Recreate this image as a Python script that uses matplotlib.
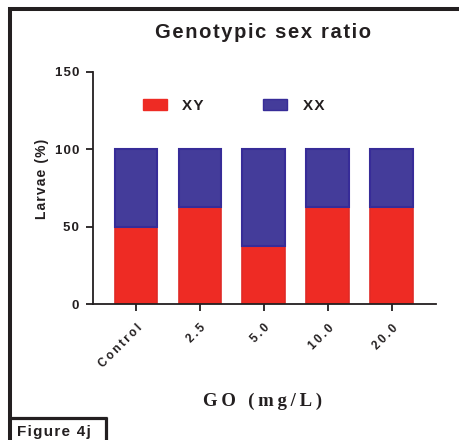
import matplotlib
matplotlib.use("Agg")
import matplotlib.pyplot as plt
from matplotlib.patches import Patch
from matplotlib.lines import Line2D
import numpy as np

categories = ["Control", "2.5", "5.0", "10.0", "20.0"]
xy_values = [50.0, 62.5, 37.5, 62.5, 62.5]
xx_values = [50.0, 37.5, 62.5, 37.5, 37.5]
series_names = ["XY", "XX"]
y_ticks = [0, 50, 100, 150]

RED = "#ee2b24"
RED_EDGE = "#e02a26"
BLUE = "#443c9a"
BLUE_EDGE = "#372c98"
DARK = "#231f20"

HAIR = "\u200a"
THIN = "\u2009"
SANS = ["Liberation Sans", "DejaVu Sans"]
SERIF = ["Liberation Serif", "DejaVu Serif"]


def track(s, sp=HAIR):
    """Letter-spaced version of a label (the source typesets with wide tracking)."""
    return sp.join(s)


W, H = 460, 440
fig = plt.figure(figsize=(W / 100, H / 100), dpi=100)
fig.patch.set_facecolor("white")


def fx(px):
    return px / W


def fy(py):
    return 1 - py / H


ax = fig.add_axes([fx(93), fy(304), fx(436) - fx(93), fy(72) - fy(304)])

x = np.arange(len(categories))
bw = 0.67
ax.bar(x, xy_values, width=bw, color=RED, edgecolor=RED_EDGE, linewidth=1.2, label=series_names[0])
ax.bar(x, xx_values, bottom=xy_values, width=bw, color=BLUE, edgecolor=BLUE_EDGE, linewidth=1.5,
       label=series_names[1])

ax.set_xlim(-0.672, 4.69)
ax.set_ylim(0, 150)
ax.set_yticks(y_ticks)
ax.set_xticks(x)
ax.set_xticklabels([track(c, THIN) for c in categories], rotation=45, ha="right", va="top",
                   rotation_mode="anchor", fontsize=8.5, fontweight="bold", family=SANS)
ax.set_yticklabels([track(str(v)) for v in y_ticks], fontsize=9.5, fontweight="bold", family=SANS)
for s in ["top", "right"]:
    ax.spines[s].set_visible(False)
for s in ["left", "bottom"]:
    ax.spines[s].set_linewidth(1.3)
    ax.spines[s].set_color(DARK)
ax.tick_params(axis="both", length=5, width=1.3, color=DARK, labelcolor=DARK)
ax.tick_params(axis="y", pad=5)
ax.tick_params(axis="x", pad=8)

ax.set_ylabel(track("Larvae (%)"), fontsize=10, fontweight="bold", family=SANS, color=DARK)
ax.yaxis.set_label_coords((42 - 93) / 343, (304 - 179) / 232)
ax.yaxis.label.set_va("center")
ax.set_xlabel(track("GO (mg/L)", THIN), fontsize=13.5, fontweight="bold", family=SERIF, color=DARK)
ax.xaxis.set_label_coords((263 - 93) / 343, (304 - 401) / 232)
ax.xaxis.label.set_va("center")

fig.text(fx(263), fy(33), track("Genotypic sex ratio"), fontsize=14.5, fontweight="bold",
         family=SANS, color=DARK, ha="center", va="center")

handles = [Patch(facecolor=RED, edgecolor=RED), Patch(facecolor=BLUE, edgecolor=BLUE_EDGE)]
leg = ax.legend(handles, [track(n) for n in series_names], ncol=2, frameon=False, loc="center left",
                bbox_to_anchor=((143 - 93) / 343, (304 - 106) / 232),
                handlelength=1.57, handleheight=0.78, handletextpad=1.0, columnspacing=3.9,
                borderpad=0, borderaxespad=0,
                prop={"family": SANS, "weight": "bold", "size": 11})
for t in leg.get_texts():
    t.set_color(DARK)

# outer frame
lw_frame = 2.9
fig.add_artist(Line2D([fx(8), fx(460)], [fy(9), fy(9)], transform=fig.transFigure, color=DARK,
                      lw=lw_frame, solid_capstyle="butt"))
fig.add_artist(Line2D([fx(10), fx(10)], [fy(7.5), fy(440)], transform=fig.transFigure, color=DARK,
                      lw=lw_frame, solid_capstyle="butt"))
# Figure label box
fig.add_artist(Line2D([fx(10), fx(107)], [fy(418), fy(418)], transform=fig.transFigure, color=DARK,
                      lw=2.3, solid_capstyle="butt"))
fig.add_artist(Line2D([fx(106), fx(106)], [fy(417), fy(440)], transform=fig.transFigure, color=DARK,
                      lw=2.3, solid_capstyle="butt"))
fig.text(fx(17), fy(432), track("Figure 4j"), fontsize=11, fontweight="bold", family=SANS,
         color=DARK, ha="left", va="center")

fig.savefig("out.png", dpi=100, facecolor="white")
